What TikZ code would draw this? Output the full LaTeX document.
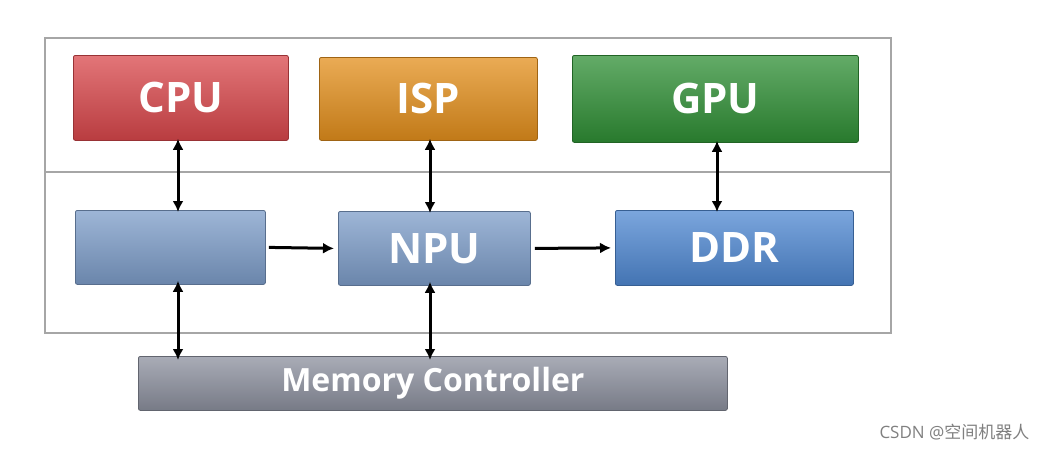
\documentclass[tikz,border=0pt]{standalone}
\usepackage{fontspec}
\setmainfont{Open Sans}
\newfontfamily\cjkf{Noto Sans CJK SC}
\usetikzlibrary{arrows.meta}
\definecolor{cpuc}{HTML}{D9474B}
\definecolor{ispc}{HTML}{E38F1C}
\definecolor{gpuc}{HTML}{2F8F35}
\definecolor{bluc}{HTML}{7D9DC9}
\definecolor{ddrc}{HTML}{4F88D2}
\definecolor{memc}{HTML}{8C909E}
\tikzset{
 blk/.style={draw=#1!70!black, line width=0.8pt, inner sep=0pt, anchor=north west, rounded corners=2pt,
   top color=#1!75!white, bottom color=#1!85!black, text=white,
   font=\fontsize{42}{42}\selectfont\bfseries},
 arr/.style={line width=3pt, {Latex[length=11pt,width=11pt]}-{Latex[length=11pt,width=11pt]}},
 arro/.style={line width=3pt, -{Latex[length=11pt,width=11pt]}},
}
\begin{document}
\begin{tikzpicture}[x=1pt,y=-1pt]
\useasboundingbox[fill=white] (0,0) rectangle (1037,450);
\draw[gray!70, line width=1.2pt] (45,38) rectangle (891,333);
\draw[gray!70, line width=1.2pt] (45,172) -- (891,172);
\node[blk=cpuc, minimum width=215pt, minimum height=85pt] (cpu) at (73,55) {CPU};
\node[blk=ispc, minimum width=218pt, minimum height=83pt] (isp) at (319,57) {ISP};
\node[blk=gpuc, minimum width=286pt, minimum height=87pt] (gpu) at (572,55) {GPU};
\node[blk=bluc, minimum width=190pt, minimum height=74pt] (blank) at (75,210) {};
\node[blk=bluc, minimum width=192pt, minimum height=74pt] (npu) at (338,211) {NPU};
\node[blk=ddrc, minimum width=238pt, minimum height=75pt] (ddr) at (615,210) {DDR};
\node[blk=memc, minimum width=589pt, minimum height=54pt, font=\fontsize{32}{32}\selectfont\bfseries] (mem) at (138,356) {Memory Controller};
\draw[arr] ([yshift=2pt]cpu.south -| 178,0) -- ([yshift=-2pt]blank.north -| 178,0);
\draw[arr] ([yshift=2pt]isp.south -| 430,0) -- ([yshift=-2pt]npu.north -| 430,0);
\draw[arr] ([yshift=2pt]gpu.south -| 717,0) -- ([yshift=-2pt]ddr.north -| 717,0);
\draw[arro] ([xshift=3pt]blank.east) -- ([xshift=-4pt]npu.west);
\draw[arro] ([xshift=4pt]npu.east) -- ([xshift=-4pt]ddr.west);
\draw[arr] ([yshift=4pt]blank.south -| 178,0) -- ([yshift=-4pt]mem.north -| 178,0);
\draw[arr] ([yshift=4pt]npu.south -| 430,0) -- ([yshift=-4pt]mem.north -| 430,0);
\node[anchor=east, text=gray, font=\fontsize{17}{17}\selectfont] (wm) at (1033,432) {CSDN @{\cjkf 空间机器人}};
\end{tikzpicture}
\end{document}
